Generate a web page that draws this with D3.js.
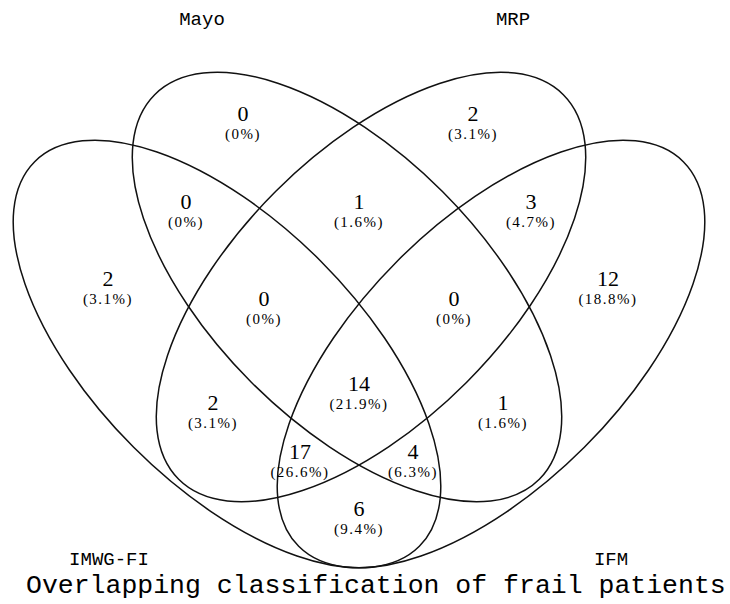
<!DOCTYPE html>
<html>
<head>
<meta charset="utf-8">
<script src="https://cdn.jsdelivr.net/npm/d3@7/dist/d3.min.js"></script>
<style>
  html, body { margin: 0; padding: 0; background: #fff; }
  svg { display: block; }
</style>
</head>
<body>
<svg id="chart" width="730" height="604"></svg>
<script>
// sets and region counts
const setNames = ["IMWG-FI", "Mayo", "MRP", "IFM"];
const regionKeys = [
  "Mayo", "MRP", "IMWG-FI&Mayo", "Mayo&MRP", "MRP&IFM",
  "IMWG-FI", "IFM", "IMWG-FI&Mayo&MRP", "Mayo&MRP&IFM",
  "IMWG-FI&Mayo&MRP&IFM", "IMWG-FI&MRP", "Mayo&IFM",
  "IMWG-FI&MRP&IFM", "IMWG-FI&Mayo&IFM", "IMWG-FI&IFM"
];
const regionCounts = [0, 2, 0, 1, 3, 2, 12, 0, 0, 14, 2, 1, 17, 4, 6];
const title = "Overlapping classification of frail patients";

// layout: ellipses (VennDiagram style quad), labels
const ellipses = {
  "IMWG-FI": { cx: 227, cy: 354, rx: 272, ry: 132, angle: 45 },
  "Mayo":    { cx: 347, cy: 287, rx: 272, ry: 135, angle: 45 },
  "MRP":     { cx: 371, cy: 287, rx: 272, ry: 135, angle: -45 },
  "IFM":     { cx: 491, cy: 354, rx: 272, ry: 132, angle: -45 }
};
const catPos = {
  "Mayo": [202, 25], "MRP": [513, 25], "IMWG-FI": [109, 565], "IFM": [611, 565]
};
const labelPos = {
  "Mayo": [243, 115], "MRP": [473, 115], "IMWG-FI&Mayo": [186, 203],
  "Mayo&MRP": [359, 203], "MRP&IFM": [531, 203], "IMWG-FI": [108, 280],
  "IFM": [608, 280], "IMWG-FI&Mayo&MRP": [264, 300], "Mayo&MRP&IFM": [454, 300],
  "IMWG-FI&Mayo&MRP&IFM": [359, 385], "IMWG-FI&MRP": [213, 404],
  "Mayo&IFM": [503, 404], "IMWG-FI&MRP&IFM": [300, 453],
  "IMWG-FI&Mayo&IFM": [413, 453], "IMWG-FI&IFM": [359, 510]
};

const svg = d3.select("#chart");
const total = d3.sum(regionCounts);
const pct = function(v) {
  if (v === 0) return "(0%)";
  return "(" + (v / total * 100).toFixed(1) + "%)";
};

svg.append("g")
  .selectAll("ellipse")
  .data(setNames)
  .enter()
  .append("ellipse")
  .attr("transform", function(d) {
    let e = ellipses[d];
    return "translate(" + e.cx + "," + e.cy + ") rotate(" + e.angle + ")";
  })
  .attr("rx", d => ellipses[d].rx)
  .attr("ry", d => ellipses[d].ry)
  .attr("fill", "none")
  .attr("stroke", "#111")
  .attr("stroke-width", 1.5);

const regions = regionKeys.map((k, i) => ({ key: k, count: regionCounts[i] }));

const lab = svg.append("g")
  .selectAll("g")
  .data(regions)
  .enter()
  .append("g")
  .attr("transform", d => "translate(" + labelPos[d.key] + ")");

lab.append("text")
  .attr("text-anchor", "middle")
  .attr("y", -1)
  .attr("dy", "0.3em")
  .attr("font-family", "Liberation Serif, serif")
  .attr("font-size", "22px")
  .attr("fill", "#000")
  .text(d => d.count);

lab.append("text")
  .attr("text-anchor", "middle")
  .attr("y", 19.5)
  .attr("dy", "0.33em")
  .attr("font-family", "Liberation Serif, serif")
  .attr("font-size", "15px")
  .attr("letter-spacing", "1.5px")
  .attr("fill", "#000")
  .text(d => pct(d.count));

svg.append("g")
  .selectAll("text")
  .data(setNames)
  .enter()
  .append("text")
  .attr("x", d => catPos[d][0])
  .attr("y", d => catPos[d][1])
  .attr("text-anchor", "middle")
  .attr("font-family", "Liberation Mono, monospace")
  .attr("font-size", "19px")
  .attr("fill", "#000")
  .text(d => d);

svg.append("text")
  .attr("x", 26)
  .attr("y", 593)
  .attr("font-family", "Liberation Mono, monospace")
  .attr("font-size", "26.5px")
  .attr("fill", "#000")
  .text(title);
</script>
</body>
</html>
